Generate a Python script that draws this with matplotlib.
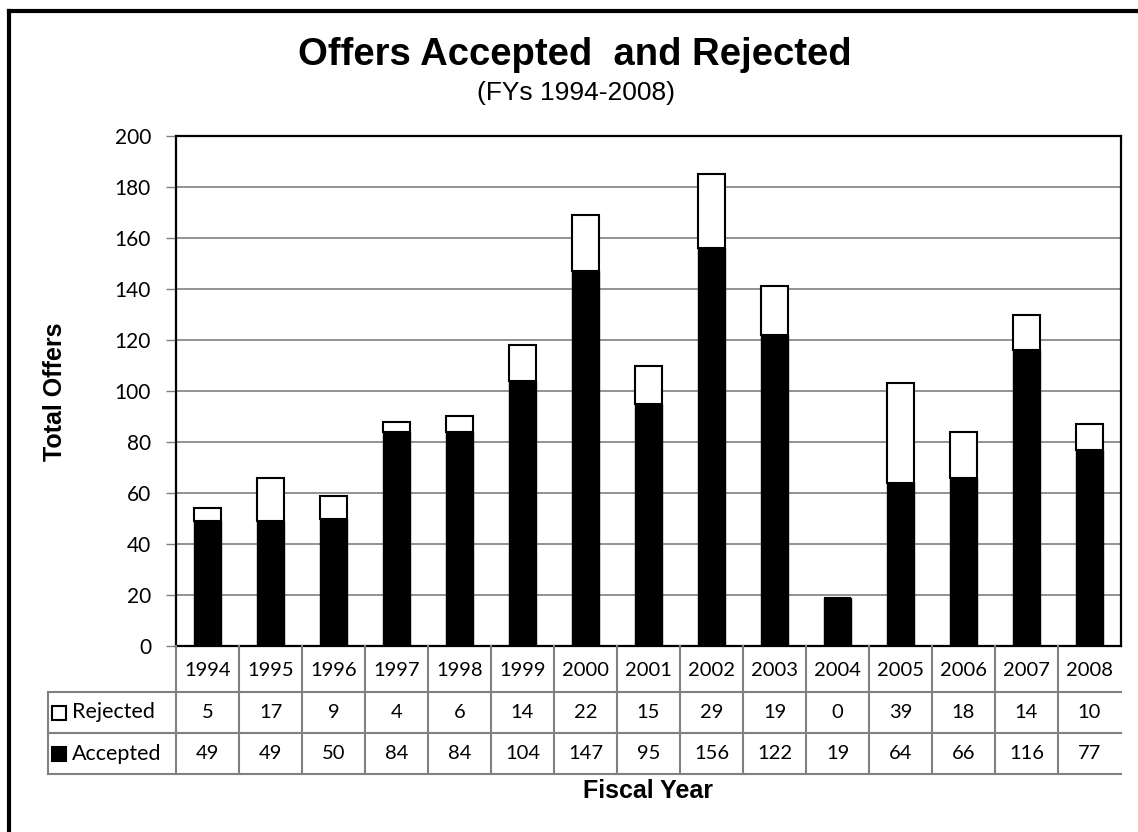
import matplotlib
matplotlib.use('Agg')
import matplotlib.pyplot as plt
from matplotlib.lines import Line2D
from matplotlib.patches import Rectangle
import numpy as np

# chart data
years = ['1994', '1995', '1996', '1997', '1998', '1999', '2000', '2001',
         '2002', '2003', '2004', '2005', '2006', '2007', '2008']
rejected = [5, 17, 9, 4, 6, 14, 22, 15, 29, 19, 0, 39, 18, 14, 10]
accepted = [49, 49, 50, 84, 84, 104, 147, 95, 156, 122, 19, 64, 66, 116, 77]
y_ticks = [0, 20, 40, 60, 80, 100, 120, 140, 160, 180, 200]

W, H = 1138, 832
body_font = 'Lato'
head_font = 'Liberation Sans'
grid_gray = '#808080'

fig = plt.figure(figsize=(W / 100, H / 100), dpi=100)

# main plot area (pixel box 176..1121 x 136..646)
ax = fig.add_axes([176 / W, 1 - 646 / H, (1121 - 176) / W, (646 - 136) / H])
x = np.arange(len(years))
ax.bar(x, accepted, width=0.43, color='black', edgecolor='black', lw=1, zorder=3)
ax.bar(x, rejected, width=0.43, bottom=accepted, color='white',
       edgecolor='black', lw=1.5, zorder=3)
ax.set_xlim(-0.5, len(years) - 0.5)
ax.set_ylim(0, 200)
ax.set_yticks(y_ticks)
ax.set_yticklabels([str(t) for t in y_ticks], fontfamily=body_font, fontsize=15)
ax.set_xticks([])
ax.yaxis.grid(True, color=grid_gray, lw=1.2)
ax.set_axisbelow(True)
ax.tick_params(axis='y', length=7, width=1, color=grid_gray, pad=11)
for s in ax.spines.values():
    s.set_color('black')
    s.set_linewidth(1.6)

# data table under the plot (pixel rows 646..692..733..774)
tab = fig.add_axes([176 / W, 1 - 774 / H, (1121 - 176) / W, (774 - 646) / H])
tab.set_xlim(-0.5, len(years) - 0.5)
tab.set_ylim(0, 128)
tab.axis('off')
px = (1121 - 176) / len(years)
left_x = -0.5 - (176 - 48) / px
for i in range(len(years)):
    tab.plot([i - 0.5, i - 0.5], [0, 128], color=grid_gray, lw=1.5, clip_on=False)
tab.plot([left_x, left_x], [0, 82], color=grid_gray, lw=1.5, clip_on=False)
for yy in [0, 41, 82]:
    tab.plot([left_x, len(years) - 0.5], [yy, yy], color=grid_gray, lw=1.5,
             clip_on=False)

for i, yr in enumerate(years):
    tab.text(i, 104, yr, ha='center', va='center', fontfamily=body_font, fontsize=14.5)
    tab.text(i, 61.5, str(rejected[i]), ha='center', va='center',
             fontfamily=body_font, fontsize=14.5)
    tab.text(i, 20.5, str(accepted[i]), ha='center', va='center',
             fontfamily=body_font, fontsize=14.5)

sq_x = -0.5 - (176 - 52) / px
sq_w = 14 / px
tab.add_patch(Rectangle((sq_x, 54), sq_w, 14, facecolor='white', edgecolor='black',
                        lw=1.5, clip_on=False))
tab.add_patch(Rectangle((sq_x, 13), sq_w, 14, facecolor='black', edgecolor='black',
                        lw=1.5, clip_on=False))
lab_x = -0.5 - (176 - 72) / px
tab.text(lab_x, 61.5, 'Rejected', ha='left', va='center', fontfamily=body_font,
         fontsize=15.5)
tab.text(lab_x, 20.5, 'Accepted', ha='left', va='center', fontfamily=body_font,
         fontsize=15.5)

# titles and axis labels
fig.text(575 / W, 1 - 55 / H, 'Offers Accepted  and Rejected', ha='center',
         va='center', fontfamily=head_font, fontweight='bold', fontsize=27.5)
fig.text(576 / W, 1 - 93 / H, '(FYs 1994-2008)', ha='center', va='center',
         fontfamily=head_font, fontsize=19)
fig.text(55 / W, 1 - 392 / H, 'Total Offers', ha='center', va='center', rotation=90,
         fontfamily=head_font, fontweight='bold', fontsize=18)
fig.text(648 / W, 1 - 791 / H, 'Fiscal Year', ha='center', va='center',
         fontfamily=head_font, fontweight='bold', fontsize=18)

# thick frame on the left and top edges
fig.add_artist(Line2D([8.5 / W, 8.5 / W], [0, 1 - 11 / H], color='black', lw=3,
                      transform=fig.transFigure))
fig.add_artist(Line2D([8.5 / W, 1], [1 - 11 / H, 1 - 11 / H], color='black', lw=3,
                      transform=fig.transFigure))

fig.savefig('out.png', dpi=100)
